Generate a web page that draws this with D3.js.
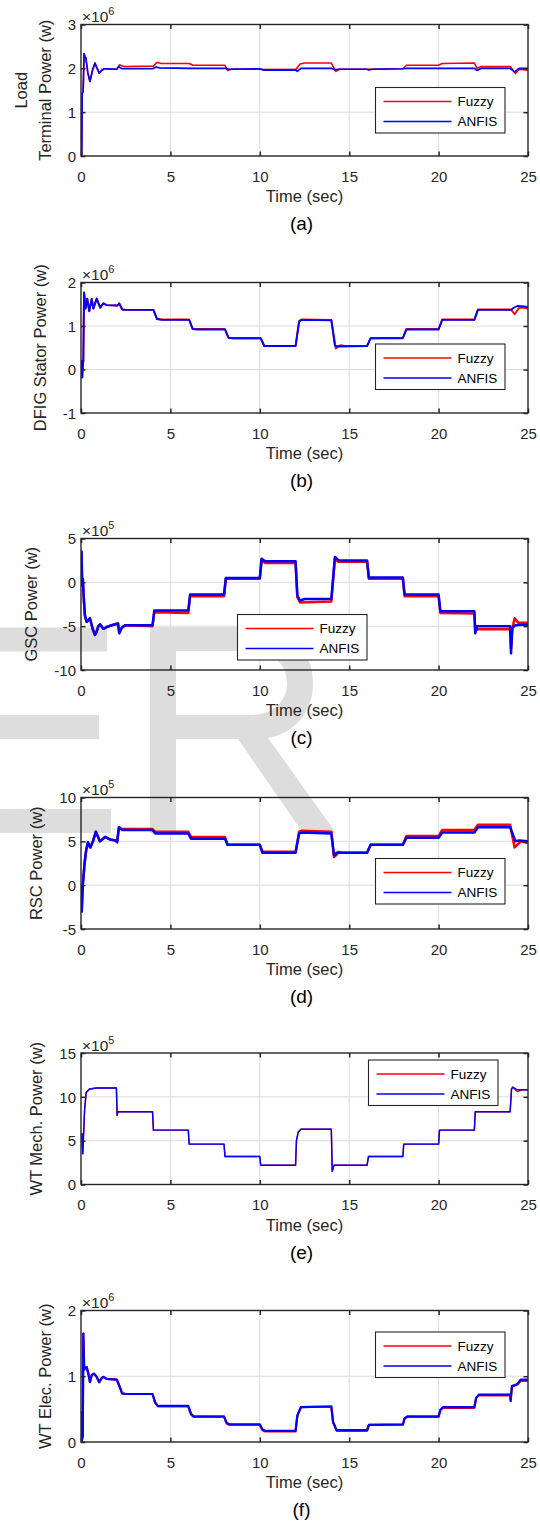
<!DOCTYPE html>
<html><head><meta charset="utf-8">
<script src="https://cdn.jsdelivr.net/npm/d3@7"></script>
<style>body{margin:0;background:#fff}svg{display:block}</style>
</head><body>
<svg id="c" width="540" height="1522"></svg>
<script>
// ---------------- DATA ----------------
const timeTicks = [0, 5, 10, 15, 20, 25];
const seriesNames = ["Fuzzy", "ANFIS"];

// (a) Load terminal power, x1e6 W
const loadStart = [[0,0],[0.04,0.02],[0.07,1.43],[0.12,1.47],[0.17,2.34],[0.22,2.26],[0.27,2.24],[0.38,1.9],[0.5,1.7],[0.64,1.95],[0.78,2.12],[0.9,2.0],[1.02,1.89],[1.15,1.95],[1.3,1.99]];
const loadFuzzy = loadStart.concat([[1.5,1.98],[2.0,1.98],[2.15,2.08],[2.4,2.04],[4.05,2.05],[4.25,2.14],[4.5,2.11],[6.05,2.11],[6.25,2.07],[8.05,2.07],[8.2,1.95],[8.4,1.98],[10.0,1.98],[10.2,1.97],[12.0,1.97],[12.25,2.1],[12.5,2.12],[14.0,2.12],[14.25,1.93],[14.45,1.98],[16.0,1.98],[18.0,1.99],[18.2,2.07],[20.0,2.07],[20.2,2.11],[22.0,2.12],[22.15,2.0],[22.4,2.04],[24.0,2.04],[24.3,1.88],[24.5,1.98],[25,1.96]]);
const loadAnfis = loadStart.concat([[1.5,1.99],[2.0,1.98],[2.12,2.04],[2.3,1.99],[4.0,1.99],[4.2,2.03],[4.4,2.01],[6.1,2.0],[8.1,2.0],[8.25,1.98],[10.0,1.99],[10.2,1.96],[12.0,1.96],[12.1,1.93],[12.3,2.0],[14.0,2.0],[14.2,1.96],[14.4,1.98],[16.0,1.98],[16.1,1.96],[16.3,1.98],[18.0,1.99],[18.2,2.0],[20.0,2.0],[22.0,2.0],[22.15,1.95],[22.4,2.0],[24.0,2.0],[24.25,1.92],[24.5,2.0],[25,2.0]]);

// (b) DFIG stator power, x1e6 W
const statorStart = [[0,0],[0.02,0.2],[0.04,-0.05],[0.07,-0.18],[0.1,0.1],[0.13,0.2],[0.17,1.77],[0.26,1.4],[0.35,1.63],[0.46,1.34],[0.6,1.62],[0.69,1.4],[0.88,1.63],[1.07,1.42],[1.25,1.52],[1.44,1.48],[2.05,1.47],[2.14,1.52],[2.3,1.38],[2.5,1.37]];
const statorFuzzy = statorStart.concat([[4.05,1.37],[4.25,1.17],[4.5,1.15],[6.05,1.15],[6.25,0.93],[6.5,0.93],[8.05,0.93],[8.25,0.73],[8.5,0.72],[10.05,0.72],[10.25,0.54],[10.5,0.54],[12.0,0.54],[12.2,1.12],[12.35,1.15],[14.0,1.14],[14.25,0.48],[14.4,0.54],[14.55,0.56],[14.7,0.54],[16.0,0.54],[16.2,0.72],[18.0,0.73],[18.2,0.93],[20.0,0.93],[20.2,1.15],[22.0,1.15],[22.2,1.38],[24.05,1.38],[24.25,1.27],[24.5,1.42],[24.8,1.42],[25,1.4]]);
const statorAnfis = statorStart.concat([[4.05,1.37],[4.25,1.16],[4.5,1.14],[6.05,1.14],[6.25,0.93],[6.5,0.92],[8.05,0.92],[8.25,0.73],[8.5,0.72],[10.05,0.72],[10.25,0.54],[10.5,0.54],[12.0,0.54],[12.2,1.1],[12.35,1.14],[14.0,1.13],[14.2,0.55],[14.35,0.53],[16.0,0.54],[16.2,0.72],[18.0,0.72],[18.2,0.92],[20.0,0.92],[20.2,1.14],[22.0,1.14],[22.2,1.37],[24.05,1.37],[24.2,1.42],[24.4,1.46],[24.8,1.45],[25,1.43]]);

// (c) GSC power, x1e5 W
const gscStart = [[0,0],[0.03,3.5],[0.06,0],[0.08,-0.4],[0.1,0.4],[0.17,-2.3],[0.22,-3.8],[0.32,-4.5],[0.41,-4.3],[0.5,-4.1],[0.65,-5.3],[0.78,-6.0],[0.88,-5.6],[0.97,-5.0],[1.07,-4.8],[1.25,-5.3],[1.44,-5.1],[1.72,-4.9],[2.07,-4.7],[2.14,-5.8],[2.27,-5.2],[2.46,-4.9]];
const gscFuzzy = gscStart.concat([[4.0,-5.0],[4.1,-3.4],[6.0,-3.5],[6.1,-1.6],[8.0,-1.6],[8.1,0.4],[10.0,0.4],[10.1,2.5],[10.3,2.2],[12.0,2.2],[12.1,-1.7],[12.25,-2.3],[14.0,-2.2],[14.2,2.7],[14.4,2.35],[16.0,2.35],[16.1,0.4],[18.0,0.4],[18.1,-1.6],[20.0,-1.6],[20.1,-3.5],[22.0,-3.55],[22.05,-5.6],[22.15,-5.35],[24.0,-5.35],[24.05,-7.5],[24.12,-5.3],[24.25,-4.1],[24.45,-4.6],[25,-4.6]]);
const gscAnfis = gscStart.concat([[4.0,-4.9],[4.1,-3.2],[6.0,-3.2],[6.1,-1.4],[8.0,-1.4],[8.1,0.5],[10.0,0.5],[10.1,2.7],[10.3,2.4],[12.0,2.4],[12.1,-1.5],[12.25,-2.1],[12.5,-1.9],[14.0,-1.9],[14.2,2.9],[14.4,2.5],[16.0,2.5],[16.1,0.55],[18.0,0.55],[18.1,-1.4],[20.0,-1.4],[20.1,-3.3],[22.0,-3.3],[22.05,-5.8],[22.15,-5.0],[24.0,-5.0],[24.05,-8.1],[24.12,-5.2],[24.3,-4.9],[25,-4.8]]);

// (d) RSC power, x1e5 W
const rscStart = [[0,0],[0.04,-3.0],[0.1,0],[0.2,2.5],[0.29,4.0],[0.39,4.9],[0.52,4.3],[0.67,5.0],[0.83,6.1],[1.06,5.0],[1.35,5.5],[1.64,5.2],[1.93,5.1],[2.02,4.9],[2.12,6.6]];
const rscFuzzy = rscStart.concat([[2.3,6.4],[4.0,6.4],[4.15,6.1],[6.0,6.1],[6.15,5.5],[8.05,5.5],[8.2,4.6],[10.0,4.6],[10.15,3.8],[12.0,3.8],[12.2,6.1],[12.35,6.2],[14.0,6.1],[14.15,3.2],[14.3,3.5],[14.4,3.8],[14.6,3.7],[16.0,3.7],[16.2,4.6],[18.0,4.6],[18.2,5.6],[20.0,5.6],[20.2,6.3],[22.0,6.3],[22.2,6.9],[24.0,6.9],[24.25,4.3],[24.6,5.0],[25,4.8]]);
const rscAnfis = rscStart.concat([[2.3,6.3],[4.0,6.3],[4.15,5.9],[6.0,5.9],[6.15,5.3],[8.05,5.3],[8.2,4.6],[10.0,4.6],[10.15,3.7],[12.0,3.7],[12.2,5.9],[12.35,6.0],[14.0,5.9],[14.15,3.4],[14.3,3.7],[16.0,3.7],[16.2,4.6],[18.0,4.6],[18.2,5.4],[20.0,5.4],[20.2,6.0],[22.0,6.0],[22.2,6.6],[24.0,6.6],[24.3,5.0],[24.5,5.1],[25,5.0]]);

// (e) WT mechanical power, x1e5 W
const mechStart = [[0,5.5],[0.05,5.8],[0.1,3.5],[0.2,8.5],[0.29,10.5],[0.48,10.9],[0.87,11.0],[1.98,11.0],[2.02,7.9],[2.06,8.3],[4.0,8.3],[4.05,6.2],[6.0,6.2],[6.05,4.6],[8.0,4.6],[8.05,3.2],[10.0,3.2],[10.05,2.2],[12.0,2.2],[12.05,5.0],[12.15,6.0],[12.3,6.3],[14.0,6.3],[14.05,1.5],[14.15,2.2],[16.0,2.2],[16.08,3.2],[18.0,3.2],[18.05,4.6],[20.0,4.6],[20.05,6.2],[22.0,6.2],[22.05,8.3],[24.0,8.3],[24.08,10.9],[24.15,11.1]];
const mechFuzzy = mechStart.concat([[24.4,10.6],[24.7,10.8],[25,10.8]]);
const mechAnfis = mechStart.concat([[24.4,10.8],[25,10.8]]);

// (f) WT electrical power, x1e6 W
const elecStart = [[0,0],[0.02,0.45],[0.05,0.02],[0.1,0.1],[0.13,1.65],[0.18,1.1],[0.22,1.12],[0.32,1.14],[0.41,1.04],[0.5,0.91],[0.6,1.02],[0.73,1.04],[0.88,0.99],[1.02,0.91],[1.15,0.97],[1.25,0.99],[1.44,0.96],[2.0,0.95],[2.15,0.85],[2.3,0.74]];
const elecFuzzy = elecStart.concat([[2.5,0.73],[4.0,0.73],[4.15,0.6],[4.3,0.54],[6.0,0.54],[6.15,0.42],[6.3,0.38],[8.0,0.38],[8.15,0.28],[8.3,0.26],[10.0,0.26],[10.15,0.18],[10.3,0.16],[12.0,0.16],[12.1,0.4],[12.3,0.53],[14.0,0.54],[14.1,0.3],[14.3,0.17],[16.0,0.17],[16.1,0.26],[18.0,0.26],[18.1,0.36],[18.25,0.38],[20.0,0.38],[20.1,0.49],[20.25,0.52],[22.0,0.52],[22.1,0.67],[22.25,0.71],[24.0,0.71],[24.03,0.62],[24.1,0.84],[24.4,0.87],[24.6,0.93],[25,0.93]]);
const elecAnfis = elecStart.concat([[2.5,0.73],[4.0,0.73],[4.15,0.6],[4.3,0.55],[6.0,0.55],[6.15,0.43],[6.3,0.39],[8.0,0.39],[8.15,0.29],[8.3,0.27],[10.0,0.27],[10.15,0.19],[10.3,0.17],[12.0,0.17],[12.1,0.4],[12.3,0.53],[14.0,0.54],[14.1,0.3],[14.3,0.18],[16.0,0.18],[16.1,0.26],[18.0,0.27],[18.1,0.36],[18.25,0.39],[20.0,0.39],[20.1,0.49],[20.25,0.53],[22.0,0.53],[22.1,0.67],[22.25,0.72],[24.0,0.72],[24.03,0.63],[24.1,0.85],[24.4,0.88],[24.6,0.95],[25,0.95]]);

const yTicksA = [0, 1, 2, 3];
const yTicksB = [-1, 0, 1, 2];
const yTicksC = [-10, -5, 0, 5];
const yTicksD = [-5, 0, 5, 10];
const yTicksE = [0, 5, 10, 15];
const yTicksF = [0, 1, 2];
const exponents = [6, 6, 5, 5, 5, 6];
const yLabels = [["Load", "Terminal Power (w)"], ["DFIG Stator Power (w)"], ["GSC Power (w)"], ["RSC Power (w)"], ["WT Mech. Power (w)"], ["WT Elec. Power (w)"]];
const captions = ["(a)", "(b)", "(c)", "(d)", "(e)", "(f)"];
const xLabel = "Time (sec)";

// ---------------- LAYOUT / STYLE ----------------
const FONT = "'Liberation Sans', Arial, Helvetica, sans-serif";
const TXT = "#262626";
const RED = "#ff0000", BLUE = "#0000ff";
const left = 81, right = 528;
const panels = [
  {top: 24.5, bottom: 156, ticks: yTicksA, fuzzy: loadFuzzy, anfis: loadAnfis, sw: 1.6, ylx: [21, 45], leg: [375.5, 87.5]},
  {top: 282.5, bottom: 413, ticks: yTicksB, fuzzy: statorFuzzy, anfis: statorAnfis, sw: 1.9, ylx: [40], leg: [375.5, 344]},
  {top: 538.5, bottom: 670, ticks: yTicksC, fuzzy: gscFuzzy, anfis: gscAnfis, sw: 2.5, ylx: [31.5], leg: [237.5, 614.5]},
  {top: 797.5, bottom: 929, ticks: yTicksD, fuzzy: rscFuzzy, anfis: rscAnfis, sw: 2.5, ylx: [36.5], leg: [375.5, 858.5]},
  {top: 1053, bottom: 1184.5, ticks: yTicksE, fuzzy: mechFuzzy, anfis: mechAnfis, sw: 1.4, ylx: [36.5], leg: [368.5, 1060]},
  {top: 1310.5, bottom: 1442, ticks: yTicksF, fuzzy: elecFuzzy, anfis: elecAnfis, sw: 2.2, ylx: [45], leg: [375.5, 1332]}
];

const svg = d3.select("#c");
svg.append("rect").attr("width", 540).attr("height", 1522).attr("fill", "#fff");

// watermark (background letters)
const wm = svg.append("g").attr("fill", "#dddddd");
wm.append("rect").attr("x", 0).attr("y", 627.5).attr("width", 107).attr("height", 24);
wm.append("rect").attr("x", 0).attr("y", 715).attr("width", 99).attr("height", 24);
wm.append("rect").attr("x", 0).attr("y", 809).attr("width", 111).attr("height", 24);
wm.append("path").attr("fill-rule", "evenodd")
  .attr("d", "M150,627 H252 C290,627 313,650 313,683 C313,712 295,733 268,738 L336,833 H303 L238,739 H176 V833 H150 Z M176,651 V715 H250 C275,715 287,700 287,683 C287,664 273,651 250,651 Z");

const x = d3.scaleLinear().domain([0, 25]).range([left, right]);
const fmt = d => String(d);

panels.forEach((p, i) => {
  const dom = d3.extent(p.ticks);
  const y = d3.scaleLinear().domain(dom).range([p.bottom, p.top]);
  const g = svg.append("g");
  const clipId = "clip" + i;
  g.append("clipPath").attr("id", clipId).append("rect")
    .attr("x", left).attr("y", p.top).attr("width", right - left).attr("height", p.bottom - p.top);

  // grid
  g.append("g").selectAll("line").data(timeTicks.slice(1, -1)).join("line")
    .attr("x1", d => x(d)).attr("x2", d => x(d)).attr("y1", p.top).attr("y2", p.bottom)
    .attr("stroke", "#dcdcdc").attr("stroke-width", 1);
  g.append("g").selectAll("line").data(p.ticks.slice(1, -1)).join("line")
    .attr("y1", d => y(d)).attr("y2", d => y(d)).attr("x1", left).attr("x2", right)
    .attr("stroke", "#dcdcdc").attr("stroke-width", 1);

  // series
  const line = d3.line().x(d => x(d[0])).y(d => y(d[1]));
  const lg = g.append("g").attr("clip-path", `url(#${clipId})`);
  lg.append("path").datum(p.fuzzy).attr("d", line).attr("fill", "none")
    .attr("stroke", RED).attr("stroke-width", p.sw).attr("stroke-linejoin", "round");
  lg.append("path").datum(p.anfis).attr("d", line).attr("fill", "none")
    .attr("stroke", BLUE).attr("stroke-width", p.sw).attr("stroke-linejoin", "round");

  // axes with inward ticks on all sides
  const tl = 4.5;
  const axB = d3.axisBottom(x).tickValues(timeTicks).tickFormat(fmt).tickSizeInner(-tl).tickSizeOuter(0).tickPadding(10);
  const axT = d3.axisTop(x).tickValues(timeTicks).tickSizeInner(-tl).tickSizeOuter(0).tickFormat("");
  const axL = d3.axisLeft(y).tickValues(p.ticks).tickFormat(fmt).tickSizeInner(-tl).tickSizeOuter(0).tickPadding(10);
  const axR = d3.axisRight(y).tickValues(p.ticks).tickSizeInner(-tl).tickSizeOuter(0).tickFormat("");
  const styleAxis = sel => {
    sel.select(".domain").remove();
    sel.selectAll("line").attr("stroke", TXT).attr("stroke-width", 1.5);
    sel.selectAll("text").attr("fill", TXT).attr("font-family", FONT).attr("font-size", 15);
  };
  g.append("g").attr("transform", `translate(0,${p.bottom})`).call(axB).call(styleAxis)
    .selectAll("text").attr("dy", null).attr("y", 25.5).attr("dominant-baseline", "auto");
  g.append("g").attr("transform", `translate(0,${p.top})`).call(axT).call(styleAxis);
  g.append("g").attr("transform", `translate(${left},0)`).call(axL).call(styleAxis)
    .selectAll("text").attr("x", -5).attr("dy", "0.35em");
  g.append("g").attr("transform", `translate(${right},0)`).call(axR).call(styleAxis);
  g.append("rect").attr("x", left).attr("y", p.top).attr("width", right - left).attr("height", p.bottom - p.top)
    .attr("fill", "none").attr("stroke", TXT).attr("stroke-width", 1.4);

  // exponent
  const ex = g.append("text").attr("x", left + 1).attr("y", p.top - 2.5)
    .attr("font-family", FONT).attr("font-size", 15.5).attr("fill", TXT);
  ex.append("tspan").text("\u00d710");
  ex.append("tspan").attr("dy", -7).attr("font-size", 11).text(exponents[i]);

  // y label
  const ymid = (p.top + p.bottom) / 2;
  yLabels[i].forEach((t, k) => {
    g.append("text").attr("transform", `translate(${p.ylx[k]},${ymid}) rotate(-90)`)
      .attr("text-anchor", "middle").attr("dy", "0.35em")
      .attr("font-family", FONT).attr("font-size", 16.5).attr("fill", TXT).text(t);
  });

  // x label and caption
  g.append("text").attr("x", (left + right) / 2).attr("y", p.bottom + 46)
    .attr("text-anchor", "middle").attr("font-family", FONT).attr("font-size", 16.5).attr("fill", TXT).text(xLabel);
  g.append("text").attr("x", (left + right) / 2 - 3).attr("y", p.bottom + 74)
    .attr("text-anchor", "middle").attr("font-family", FONT).attr("font-size", 19).attr("fill", "#000").text(captions[i]);

  // legend
  const [lx, ly] = p.leg;
  const L = g.append("g").attr("transform", `translate(${lx},${ly})`);
  L.append("rect").attr("width", 129.5).attr("height", 45.5).attr("fill", "#fff")
    .attr("stroke", TXT).attr("stroke-width", 1.1);
  [RED, BLUE].forEach((c, k) => {
    const yy = 14 + k * 20;
    L.append("line").attr("x1", 8).attr("x2", 76).attr("y1", yy).attr("y2", yy)
      .attr("stroke", c).attr("stroke-width", 1.5);
    L.append("text").attr("x", 82).attr("y", yy).attr("dy", "0.35em")
      .attr("font-family", FONT).attr("font-size", 13.5).attr("fill", "#000").text(seriesNames[k]);
  });
});
</script>
</body></html>
